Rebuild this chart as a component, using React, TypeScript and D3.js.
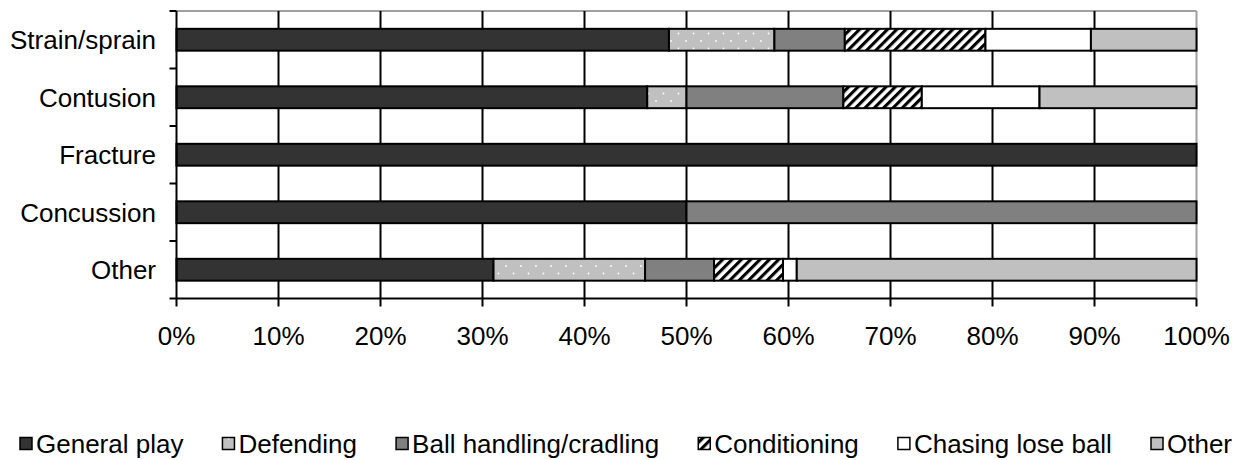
import React from "react";
import * as d3 from "d3";

const categories = ["Strain/sprain", "Contusion", "Fracture", "Concussion", "Other"];
const seriesNames = ["General play", "Defending", "Ball handling/cradling", "Conditioning", "Chasing lose ball", "Other"];
const generalPlay = [48.28, 46.15, 100, 50, 31.08];
const defending = [10.34, 3.85, 0, 0, 14.86];
const ballHandling = [6.9, 15.38, 0, 50, 6.76];
const conditioning = [13.79, 7.69, 0, 0, 6.76];
const chasing = [10.34, 11.54, 0, 0, 1.35];
const otherActivity = [10.35, 15.39, 0, 0, 39.19];
const xTicks = [0, 10, 20, 30, 40, 50, 60, 70, 80, 90, 100];

const fills = ["#333333", "url(#dots)", "#808080", "url(#stripes)", "#ffffff", "#c0c0c0"];
const FONT = "'Liberation Sans', Arial, sans-serif";

export default function App() {
  const W = 1250, H = 460;
  const left = 176.5, right = 1196.5, top = 11, bottom = 298.5;
  const x = d3.scaleLinear().domain([0, 100]).range([left, right]);
  const y = d3.scaleBand<string>().domain(categories).range([top, bottom]).paddingInner(0.62).paddingOuter(0.31);
  const step = y.step();

  const rows = categories.map((c, i) => ({
    cat: c,
    s0: generalPlay[i], s1: defending[i], s2: ballHandling[i], s3: conditioning[i], s4: chasing[i], s5: otherActivity[i],
  }));
  const keys = ["s0", "s1", "s2", "s3", "s4", "s5"];
  const stacked = d3.stack<any>().keys(keys)(rows);

  const legendWidths = [141.7, 114, 237.6, 139, 190.4, 62.5].map((w) => (w * 26) / 25);
  const sw = 13, gapText = 3;
  const totalItems = legendWidths.reduce((a, b) => a + sw + gapText + b, 0);
  const legendStart = 20, legendEnd = 1232;
  const gap = (legendEnd - legendStart - totalItems) / (legendWidths.length - 1);
  const legendX: number[] = [];
  let cx = legendStart;
  legendWidths.forEach((w) => { legendX.push(cx); cx += sw + gapText + w + gap; });
  const legendBase = 453;

  return (
    <svg width={W} height={H} style={{ position: "absolute", left: 0, top: 0, background: "#fff" }} fontFamily={FONT}>
      <defs>
        <pattern id="dots" width="15" height="15" patternUnits="userSpaceOnUse">
          <rect width="15" height="15" fill="#c0c0c0" />
          <circle cx="3.5" cy="3.5" r="0.9" fill="#ffffff" />
          <circle cx="11" cy="11" r="0.9" fill="#ffffff" />
        </pattern>
        <pattern id="stripes" width="6.6" height="6.6" patternUnits="userSpaceOnUse" patternTransform="rotate(45)">
          <rect width="6.6" height="6.6" fill="#ffffff" />
          <rect width="3.1" height="6.6" fill="#000000" />
        </pattern>
      </defs>
      <rect x={0} y={0} width={W} height={H} fill="#fff" />
      <line x1={left} x2={right} y1={top} y2={top} stroke="#a0a0a0" strokeWidth={2} />
      <line x1={right} x2={right} y1={top} y2={bottom} stroke="#a0a0a0" strokeWidth={2} />
      {xTicks.slice(1, -1).map((t) => (
        <line key={t} x1={x(t)} x2={x(t)} y1={top} y2={bottom} stroke="#000" strokeWidth={2} />
      ))}
      {stacked.map((s, si) =>
        s.map((d, di) => {
          const w = x(d[1]) - x(d[0]);
          if (w <= 0.01) return null;
          return (
            <rect key={si + "-" + di} x={x(d[0])} y={y(d.data.cat)} width={w} height={y.bandwidth()}
              fill={fills[si]} stroke="#000" strokeWidth={2} />
          );
        })
      )}
      <line x1={left} x2={left} y1={top} y2={bottom} stroke="#000" strokeWidth={2} />
      <line x1={left} x2={right} y1={bottom} y2={bottom} stroke="#000" strokeWidth={2} />
      {d3.range(categories.length + 1).map((i) => (
        <line key={"yt" + i} x1={left - 7} x2={left} y1={top + i * step} y2={top + i * step} stroke="#000" strokeWidth={2} />
      ))}
      {xTicks.map((t) => (
        <line key={"xt" + t} x1={x(t)} x2={x(t)} y1={bottom} y2={bottom + 8} stroke="#000" strokeWidth={2} />
      ))}
      {xTicks.map((t) => (
        <text key={"xl" + t} x={x(t)} y={345} textAnchor="middle" fontSize={26} fill="#000">{t + "%"}</text>
      ))}
      {categories.map((c) => (
        <text key={"yl" + c} x={156} y={(y(c) as number) + y.bandwidth() / 2 + 9.3} textAnchor="end" fontSize={26} fill="#000">{c}</text>
      ))}
      {seriesNames.map((n, i) => (
        <g key={"lg" + i}>
          <rect x={legendX[i]} y={legendBase - 15.5} width={sw - 1} height={sw - 1} fill={fills[i]} stroke="#000" strokeWidth={1.5} />
          <text x={legendX[i] + sw + gapText} y={legendBase} fontSize={26} fill="#000">{n}</text>
        </g>
      ))}
    </svg>
  );
}
